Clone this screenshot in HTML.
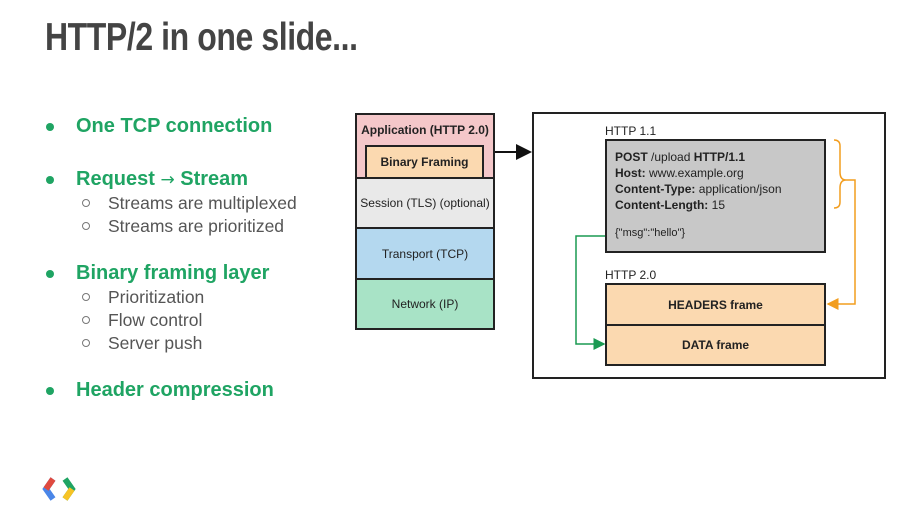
<!DOCTYPE html>
<html><head><style>
body{margin:0;width:907px;height:511px;background:#fff;position:relative;overflow:hidden;font-family:"Liberation Sans",sans-serif}
.a{position:absolute}
.t{font-size:39px;font-weight:bold;color:#444;left:45px;top:16px;transform:scaleX(0.82);transform-origin:left;letter-spacing:-0.5px;white-space:nowrap}
.b{color:#1fa463;font-weight:bold;font-size:20px;left:76px;white-space:nowrap}
.dot{width:8px;height:8px;border-radius:50%;background:#1fa463;left:46px}
.s{color:#555;font-size:17.5px;left:108px;white-space:nowrap}
.c{width:6px;height:6px;border:1.3px solid #777;border-radius:50%;left:82px}
.box{position:absolute;box-sizing:border-box;border:2px solid #222;text-align:center;font-size:12px;color:#222;display:flex;align-items:center;justify-content:center}
.m{font-size:12px;color:#222}
</style></head><body>
<div class="a t">HTTP/2 in one slide...</div>

<div class="a dot" style="top:123px"></div><div class="a b" style="top:115px">One TCP connection</div>
<div class="a dot" style="top:176px"></div><div class="a b" style="top:168px">Request <span style="font-weight:normal;font-family:'DejaVu Sans';font-size:17px">→</span> Stream</div>
<div class="a c" style="top:199px"></div><div class="a s" style="top:193px">Streams are multiplexed</div>
<div class="a c" style="top:222px"></div><div class="a s" style="top:216px">Streams are prioritized</div>
<div class="a dot" style="top:270px"></div><div class="a b" style="top:262px">Binary framing layer</div>
<div class="a c" style="top:293px"></div><div class="a s" style="top:287px">Prioritization</div>
<div class="a c" style="top:316px"></div><div class="a s" style="top:310px">Flow control</div>
<div class="a c" style="top:339px"></div><div class="a s" style="top:333px">Server push</div>
<div class="a dot" style="top:387px"></div><div class="a b" style="top:379px">Header compression</div>

<div class="box" style="left:355px;top:113px;width:140px;height:66px;background:#f4c7c9;align-items:flex-start;padding-top:8px;font-weight:bold">Application (HTTP 2.0)</div>
<div class="box" style="left:365px;top:145px;width:119px;height:34px;background:#fbd9b0;font-weight:bold">Binary Framing</div>
<div class="box" style="left:355px;top:177px;width:140px;height:52px;background:#e9e9e9">Session (TLS) (optional)</div>
<div class="box" style="left:355px;top:227px;width:140px;height:53px;background:#b4d8ef">Transport (TCP)</div>
<div class="box" style="left:355px;top:278px;width:140px;height:52px;background:#a8e3c6">Network (IP)</div>

<div class="box" style="left:532px;top:112px;width:354px;height:267px;background:#fff"></div>
<div class="a m" style="left:605px;top:124px">HTTP 1.1</div>
<div class="a" style="left:605px;top:139px;width:221px;height:114px;box-sizing:border-box;border:2px solid #222;background:#c8c8c8;padding:8px 8px;font-size:12px;line-height:16px;color:#222">
<b>POST</b> /upload <b>HTTP/1.1</b><br><b>Host:</b> www.example.org<br><b>Content-Type:</b> application/json<br><b>Content-Length:</b> 15<br><div style="margin-top:12px;font-size:11px">{"msg":"hello"}</div></div>
<div class="a m" style="left:605px;top:268px">HTTP 2.0</div>
<div class="box" style="left:605px;top:283px;width:221px;height:43px;background:#fbd9b0;font-weight:bold">HEADERS frame</div>
<div class="box" style="left:605px;top:324px;width:221px;height:42px;background:#fbd9b0;font-weight:bold">DATA frame</div>

<svg class="a" style="left:0;top:0" width="907" height="511">
<defs>
<marker id="k" markerWidth="8" markerHeight="8" refX="7" refY="4" orient="auto"><path d="M0,0L8,4L0,8z" fill="#111"/></marker>
<marker id="o" markerWidth="8" markerHeight="8" refX="7" refY="4" orient="auto"><path d="M0,0L8,4L0,8z" fill="#f29d1e"/></marker>
<marker id="g" markerWidth="8" markerHeight="8" refX="7" refY="4" orient="auto"><path d="M0,0L8,4L0,8z" fill="#1a9a52"/></marker>
</defs>
<line x1="495" y1="152" x2="530" y2="152" stroke="#111" stroke-width="2" marker-end="url(#k)"/>
<path d="M834,140 q6,0 6,6 v26 q0,8 6,8 q-6,0 -6,8 v14 q0,6 -6,6" fill="none" stroke="#f29d1e" stroke-width="1.5"/>
<path d="M846,180 H855 V304 H828" fill="none" stroke="#f29d1e" stroke-width="1.5" marker-end="url(#o)"/>
<path d="M605,236 H576 V344 H604" fill="none" stroke="#1a9a52" stroke-width="1.5" marker-end="url(#g)"/>
<path d="M53,479 L46,489 L53,499" fill="none" stroke="#4a86e8" stroke-width="6"/>
<path d="M53,479 L46,489" stroke="#e04a3f" stroke-width="6"/>
<path d="M65,479 L72,489 L65,499" fill="none" stroke="#1fa463" stroke-width="6"/>
<path d="M72,489 L65,499" stroke="#f7c325" stroke-width="6"/>
</svg>
</body></html>
